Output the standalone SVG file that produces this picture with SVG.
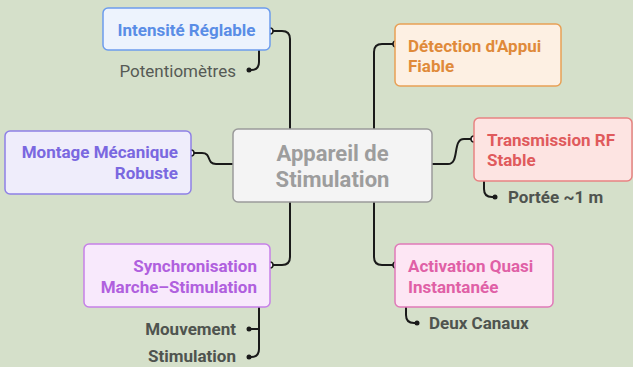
<svg xmlns="http://www.w3.org/2000/svg" width="633" height="367" viewBox="0 0 633 367">
<style>
text{font-family:Roboto,"Liberation Sans",sans-serif;font-weight:bold;}
.t{font-size:17px;}
.leaf{font-size:17px;fill:#4f544f;}
.c{fill:none;stroke:#1a1a1a;stroke-width:2;}
.o{fill:#fff;stroke:#1a1a1a;stroke-width:1.5;}
.d{fill:#1a1a1a;}
</style>
<rect width="633" height="367" fill="#d5e0ca"/>
<g id="connectors">
<path class="c" d="M270,31 H282 Q290,31 290,39 V129"/>
<path class="c" d="M290,202 V257 Q290,265 282,265 H270"/>
<path class="c" d="M374,129 V52 Q374,44 382,44 H396"/>
<path class="c" d="M374,202 V257 Q374,265 382,265 H396"/>
<path class="c" d="M191,153 H202 C212,153 206,164 216,164 H233"/>
<path class="c" d="M432,164 H448 C460,164 452,139 464,139 H474"/>
<path class="c" d="M259,50 V62 Q259,70 251,70 H249"/>
<path class="c" d="M484,181 V189 Q484,197 492,197 H495"/>
<path class="c" d="M259,307 V349 Q259,357 251,357 H249 M259,329 H249"/>
<path class="c" d="M406,307 V315 Q406,323 414,323 H417"/>
<circle class="o" cx="270" cy="31" r="3"/>
<circle class="o" cx="396" cy="44" r="3"/>
<circle class="o" cx="191" cy="153" r="3"/>
<circle class="o" cx="474" cy="139" r="3"/>
<circle class="o" cx="270" cy="265" r="3"/>
<circle class="o" cx="396" cy="265" r="3"/>
<circle class="d" cx="249" cy="70" r="2.5"/>
<circle class="d" cx="495" cy="197" r="2.5"/>
<circle class="d" cx="249" cy="329" r="2.5"/>
<circle class="d" cx="249" cy="357" r="2.5"/>
<circle class="d" cx="417" cy="323" r="2.5"/>
</g>
<g id="center">
<rect x="233" y="129" width="199" height="73" rx="5" fill="#f4f4f4" stroke="#9a9a9a" stroke-width="1.5"/>
<text x="332.5" y="161" text-anchor="middle" font-size="22" fill="#9d9d9d">Appareil de</text>
<text x="332.5" y="187" text-anchor="middle" font-size="22" fill="#9d9d9d">Stimulation</text>
</g>
<g id="intensite">
<rect x="103" y="8" width="167" height="42" rx="5" fill="#edf3fd" stroke="#6c9ced" stroke-width="1.5"/>
<text class="t" x="186.5" y="36" text-anchor="middle" fill="#5a8de6">Intensité Réglable</text>
</g>
<g id="potentiometres">
<text x="236" y="77" text-anchor="end" font-size="17" fill="#555a55" style="font-weight:normal">Potentiomètres</text>
</g>
<g id="detection">
<rect x="395" y="24" width="166" height="62" rx="5" fill="#fdf0e3" stroke="#e8a055" stroke-width="1.5"/>
<text class="t" x="408" y="52" fill="#e08a3a">Détection d'Appui</text>
<text class="t" x="408" y="72" fill="#e08a3a">Fiable</text>
</g>
<g id="montage">
<rect x="5" y="131" width="186" height="63" rx="5" fill="#efedfb" stroke="#8e80e6" stroke-width="1.5"/>
<text class="t" x="178" y="158" text-anchor="end" fill="#7a68e0">Montage Mécanique</text>
<text class="t" x="178" y="179" text-anchor="end" fill="#7a68e0">Robuste</text>
</g>
<g id="transmission">
<rect x="474" y="118" width="158" height="63" rx="5" fill="#fde4e2" stroke="#e88282" stroke-width="1.5"/>
<text class="t" x="487" y="146" fill="#e05a5c">Transmission RF</text>
<text class="t" x="487" y="166" fill="#e05a5c">Stable</text>
</g>
<g id="portee">
<text class="leaf" x="508" y="203">Portée ~1 m</text>
</g>
<g id="synchronisation">
<rect x="84" y="244" width="186" height="63" rx="5" fill="#f8e9fc" stroke="#c680e8" stroke-width="1.5"/>
<text class="t" x="257" y="272" text-anchor="end" fill="#b060de">Synchronisation</text>
<text class="t" x="257" y="293" text-anchor="end" fill="#b060de">Marche–Stimulation</text>
</g>
<g id="mouvement">
<text class="leaf" x="236" y="335" text-anchor="end">Mouvement</text>
</g>
<g id="stimulation">
<text class="leaf" x="236" y="362" text-anchor="end">Stimulation</text>
</g>
<g id="activation">
<rect x="395" y="244" width="158" height="63" rx="5" fill="#fde6f4" stroke="#e07ab8" stroke-width="1.5"/>
<text class="t" x="408" y="272" fill="#e060a6">Activation Quasi</text>
<text class="t" x="408" y="293" fill="#e060a6">Instantanée</text>
</g>
<g id="deux">
<text class="leaf" x="429" y="329">Deux Canaux</text>
</g>
</svg>
